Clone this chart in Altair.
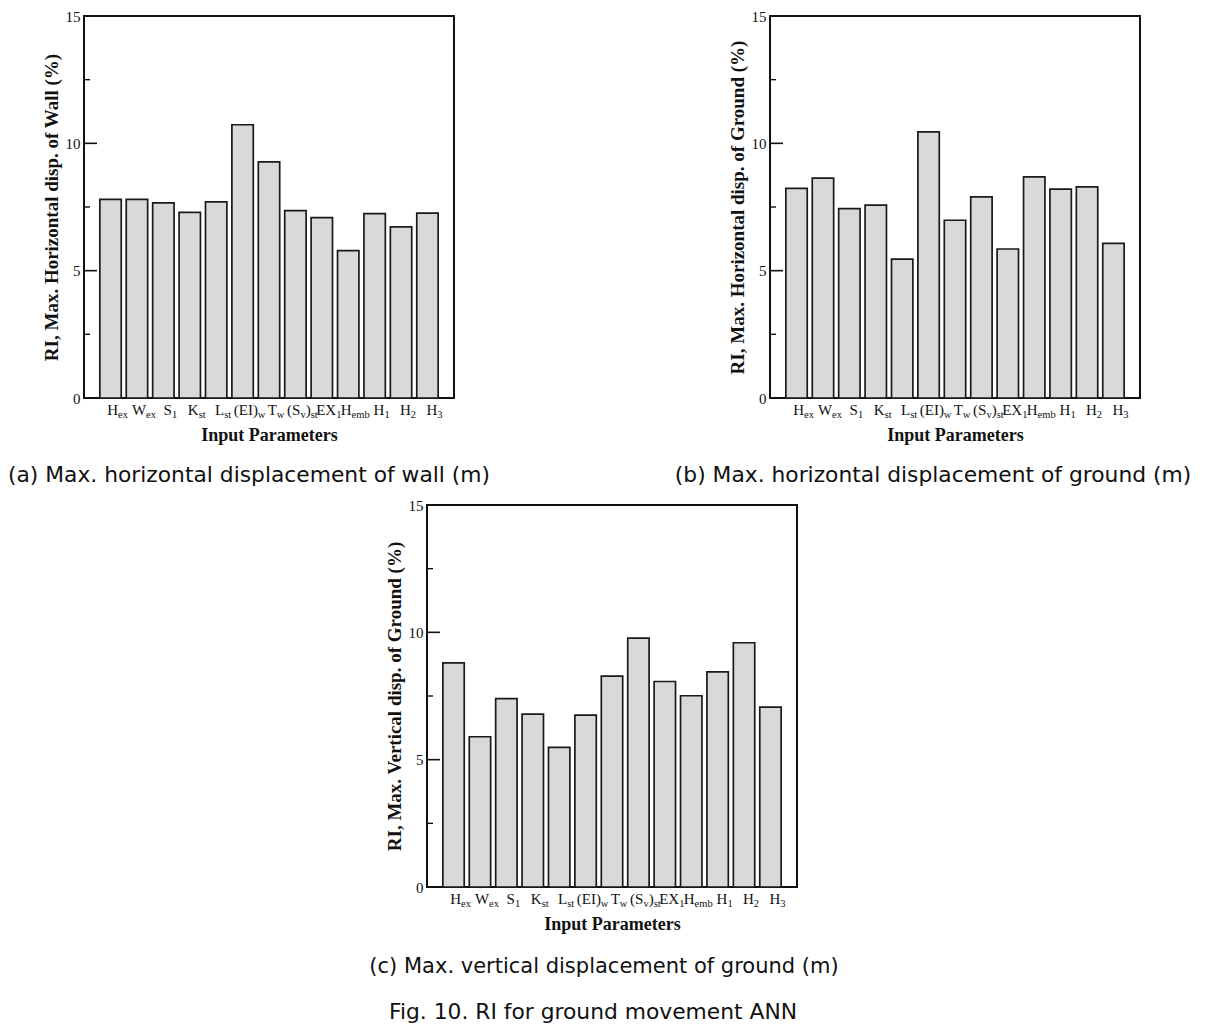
import altair as alt
import pandas as pd

# ---------------- data ----------------
params = ["Hex", "Wex", "S1", "Kst", "Lst", "EIw", "Tw", "Svst", "EX1", "Hemb", "H1", "H2", "H3"]
# tick labels as (text, is_subscript) parts
label_parts = [
    [("H", 0), ("ex", 1)],
    [("W", 0), ("ex", 1)],
    [("S", 0), ("1", 1)],
    [("K", 0), ("st", 1)],
    [("L", 0), ("st", 1)],
    [("(EI)", 0), ("w", 1)],
    [("T", 0), ("w", 1)],
    [("(S", 0), ("v", 1), (")", 0), ("st", 1)],
    [("EX", 0), ("1", 1)],
    [("H", 0), ("emb", 1)],
    [("H", 0), ("1", 1)],
    [("H", 0), ("2", 1)],
    [("H", 0), ("3", 1)],
]
ri_wall_h = [7.80, 7.80, 7.66, 7.29, 7.70, 10.73, 9.27, 7.36, 7.08, 5.79, 7.24, 6.72, 7.26]
ri_ground_h = [8.23, 8.63, 7.44, 7.57, 5.45, 10.45, 6.98, 7.90, 5.85, 8.68, 8.20, 8.29, 6.07]
ri_ground_v = [8.80, 5.90, 7.40, 6.79, 5.48, 6.75, 8.28, 9.77, 8.07, 7.51, 8.45, 9.59, 7.06]

y_titles = [
    "RI, Max. Horizontal disp. of Wall (%)",
    "RI, Max. Horizontal disp. of Ground (%)",
    "RI, Max. Vertical disp. of Ground (%)",
]
x_title = "Input Parameters"
captions = [
    "(a) Max. horizontal displacement of wall (m)",
    "(b) Max. horizontal displacement of ground (m)",
    "(c) Max. vertical displacement of ground (m)",
]
fig_caption = "Fig. 10. RI for ground movement ANN"
major_ticks = [0, 5, 10, 15]
inner_major = [5, 10]
minor_ticks = [2.5, 7.5, 12.5]

# ---------------- style ----------------
SERIF = "Liberation Serif"
SANS = "DejaVu Sans"
INK = "#111111"
W, H = 370, 382
MAIN_FS, SUB_FS = 15, 10.5
LABEL_SHIFT = 7
CAP_FS = 21.8

# Times-like advance widths (per 1000 em) for label layout
TW = {"H": 722, "W": 944, "S": 556, "K": 722, "L": 611, "(": 333, ")": 333, "E": 611,
      "I": 333, "T": 611, "X": 722, "e": 444, "x": 500, "s": 389, "t": 278, "w": 722,
      "v": 500, "m": 778, "b": 500, "1": 500, "2": 500, "3": 500}


def seg_layout(parts):
    widths = [sum(TW.get(c, 500) for c in txt) / 1000 * (SUB_FS if sub else MAIN_FS)
              for txt, sub in parts]
    x = LABEL_SHIFT - sum(widths) / 2
    out = []
    for (txt, sub), w in zip(parts, widths):
        out.append((txt, sub, x))
        x += w
    return out


def anchor(x, y1, y2):
    # invisible layout anchor (fixes the layout bounds of a row)
    return alt.Chart(pd.DataFrame({"a": [0]})).mark_rule(opacity=0, strokeWidth=1).encode(
        x=alt.value(x), y=alt.value(y1), y2=alt.value(y2))


def panel(values, ytitle, caps, anchors=()):
    df = pd.DataFrame({"param": params, "ri": values})
    xs = alt.Scale(domain=params, paddingInner=0.19, paddingOuter=0.6)
    ys = alt.Scale(domain=[0, 15], nice=False)
    x_axis = alt.Axis(labels=False, ticks=False, domain=False, grid=False,
                      title=x_title, titleFont=SERIF, titleFontSize=18,
                      titleFontWeight="bold", titleColor=INK, titleY=42,
                      titleBaseline="alphabetic")
    y_axis = alt.Axis(values=major_ticks, ticks=False, tickSize=0, domain=False, grid=False,
                      labelFont=SERIF, labelFontSize=15, labelColor=INK, labelPadding=4,
                      title=ytitle, titleFont=SERIF, titleFontSize=19,
                      titleFontWeight="bold", titleColor=INK, titleX=-33,
                      titleBaseline="middle")

    bars = alt.Chart(df).mark_bar(fill="#d9d9d9", stroke="#1a1a1a", strokeWidth=1.7).encode(
        x=alt.X("param:N", sort=params, scale=xs, axis=x_axis),
        y=alt.Y("ri:Q", scale=ys, axis=y_axis),
    )
    tk_major = alt.Chart(pd.DataFrame({"ri": inner_major})).mark_rule(color=INK, strokeWidth=1.6).encode(
        y=alt.Y("ri:Q", scale=ys, axis=y_axis), x=alt.value(0), x2=alt.value(13))
    tk_minor = alt.Chart(pd.DataFrame({"ri": minor_ticks})).mark_rule(color=INK, strokeWidth=1.4).encode(
        y=alt.Y("ri:Q", scale=ys, axis=y_axis), x=alt.value(0), x2=alt.value(6))

    layers = [bars, tk_major, tk_minor]
    for p, parts in zip(params, label_parts):
        for txt, sub, dx in seg_layout(parts):
            layers.append(
                alt.Chart(pd.DataFrame({"param": [p], "t": [txt]})).mark_text(
                    align="left", baseline="alphabetic", dx=dx, font=SERIF,
                    fontSize=SUB_FS if sub else MAIN_FS, color=INK,
                ).encode(
                    x=alt.X("param:N", sort=params, scale=xs, axis=x_axis),
                    y=alt.value(H + (19.5 if sub else 16.5)),
                    text="t:N",
                )
            )
    for txt, (cx, cy), fs in caps:
        layers.append(
            alt.Chart(pd.DataFrame({"t": [txt]})).mark_text(
                font=SANS, fontSize=fs, color=INK, align="center", baseline="middle"
            ).encode(x=alt.value(cx), y=alt.value(cy), text="t:N")
        )
    layers.extend(anchors)
    return alt.layer(*layers).properties(width=W, height=H)


pa = panel(ri_wall_h, y_titles[0], [(captions[0], (165, 459), CAP_FS)],
           anchors=[anchor(-76, -8, 475)])
pb = panel(ri_ground_h, y_titles[1], [(captions[1], (163, 459), CAP_FS)])
pc = panel(ri_ground_v, y_titles[2], [(captions[2], (177, 462), 21),
                                      (fig_caption, (166, 507), CAP_FS)])

spacer = anchor(5, -10, 0).properties(
    width=343, height=H, view=alt.ViewBackground(stroke="transparent"))

row1 = alt.hconcat(pa, pb, spacing=316, bounds="flush")
row2 = alt.hconcat(spacer, pc, spacing=0, bounds="flush")
chart = alt.vconcat(row1, row2, spacing=2).properties(
    padding={"left": -2, "top": -1, "right": 0, "bottom": 0},
    background="white",
).configure_view(stroke=INK, strokeWidth=2)

chart.save("out.html", embed_options={"renderer": "svg", "actions": False})
